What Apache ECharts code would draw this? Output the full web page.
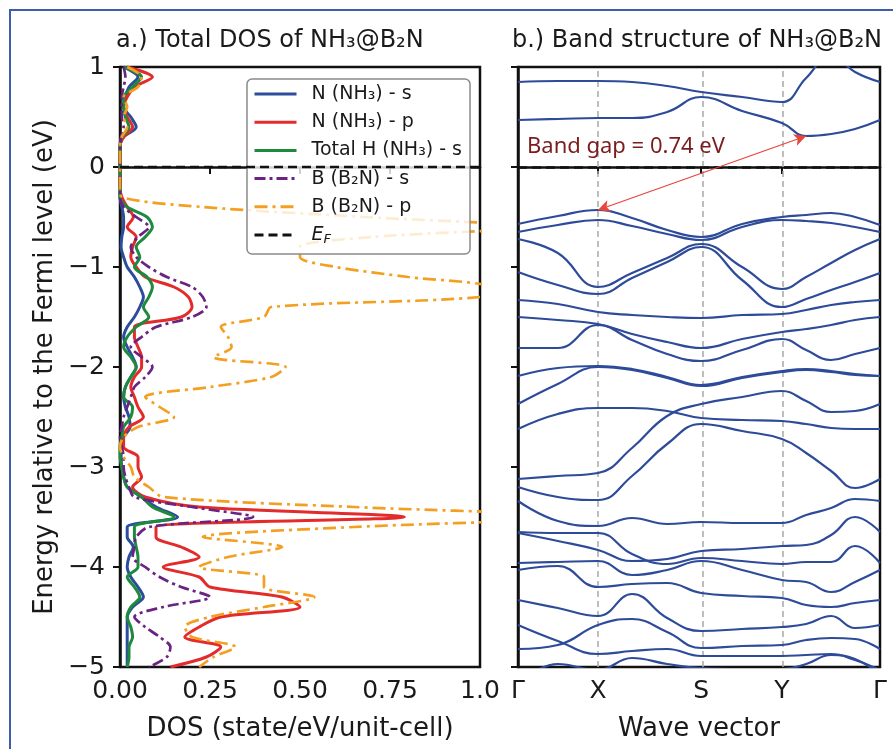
<!DOCTYPE html>
<html>
<head>
<meta charset="utf-8">
<script src="https://cdn.jsdelivr.net/npm/echarts@6/dist/echarts.min.js"></script>
<style>
html, body { margin: 0; padding: 0; background: #fff; }
#chart { width: 893px; height: 749px; }
</style>
</head>
<body>
<div id="chart"></div>
<script>
// ---- a.) DOS, energy grid (eV relative to E_F) ----
const energies = [1.0, 0.9, 0.8, 0.7, 0.6, 0.5, 0.4, 0.3, 0.2, 0.1, 0.0, -0.1, -0.2, -0.3, -0.4, -0.5, -0.6, -0.7, -0.8, -0.9,
  -1.0, -1.1, -1.2, -1.3, -1.4, -1.5, -1.6, -1.7, -1.8, -1.9, -2.0, -2.1, -2.2, -2.3, -2.4, -2.5, -2.6, -2.7, -2.8, -2.9,
  -3.0, -3.1, -3.2, -3.3, -3.4, -3.5, -3.6, -3.7, -3.8, -3.9, -4.0, -4.1, -4.2, -4.3, -4.4, -4.5, -4.6, -4.7, -4.8, -4.9, -5.0]

const dosNs = [0.01, 0.05, 0.025, 0.015, 0.01, 0.03, 0.045, 0.01, 0, 0, 0, 0, 0, 0, 0.005, 0.01, 0.01, 0.005, 0.003, 0.01,
  0.02, 0.04, 0.055, 0.065, 0.055, 0.04, 0.02, 0.01, 0.02, 0.035, 0.045, 0.03, 0.015, 0.01, 0.015, 0.025, 0.028, 0.01, 0.005, 0.003,
  0.005, 0.01, 0.02, 0.06, 0.1, 0.16, 0.02, 0.02, 0.037, 0.025, 0.02, 0.03, 0.05, 0.065, 0.035, 0.02, 0.02, 0.02, 0.02, 0.02, 0.02]
const dosNp = [0.02, 0.09, 0.04, 0.02, 0.01, 0.02, 0.035, 0.01, 0, 0, 0, 0, 0, 0.005, 0.02, 0.037, 0.02, 0.045, 0.035, 0.03,
  0.045, 0.07, 0.15, 0.19, 0.2, 0.17, 0.04, 0.04, 0.05, 0.06, 0.06, 0.04, 0.03, 0.04, 0.05, 0.065, 0.025, 0.01, 0.01, 0.05,
  0.05, 0.06, 0.035, 0.07, 0.22, 0.79, 0.1, 0.1, 0.17, 0.22, 0.12, 0.22, 0.25, 0.45, 0.5, 0.28, 0.22, 0.18, 0.28, 0.24, 0.14]
const dosHs = [0.01, 0.06, 0.035, 0.01, 0.01, 0.015, 0.025, 0.005, 0, 0, 0, 0, 0, 0, 0.02, 0.075, 0.09, 0.07, 0.045, 0.055,
  0.04, 0.075, 0.09, 0.08, 0.065, 0.08, 0.045, 0.02, 0.01, 0.03, 0.045, 0.03, 0.015, 0.01, 0.035, 0.03, 0.01, 0.005, 0, 0,
  0.005, 0.01, 0.02, 0.06, 0.09, 0.15, 0.04, 0.04, 0.045, 0.05, 0.05, 0.02, 0.04, 0.055, 0.03, 0.02, 0.03, 0.035, 0.025, 0.025, 0.02]
const dosBs = [0.01, 0.015, 0.01, 0.005, 0.005, 0.005, 0.01, 0.003, 0, 0, 0, 0, 0, 0, 0.01, 0.045, 0.08, 0.05, 0.03, 0.045,
  0.08, 0.13, 0.2, 0.23, 0.24, 0.2, 0.1, 0.06, 0.03, 0.06, 0.09, 0.07, 0.04, 0.03, 0.02, 0.01, 0.005, 0, 0.005, 0.01,
  0.01, 0.015, 0.025, 0.04, 0.2, 0.37, 0.08, 0.045, 0.04, 0.035, 0.07, 0.11, 0.17, 0.25, 0.12, 0.04, 0.07, 0.11, 0.14, 0.13, 0.08]
const dosBp = [0.02, 0.06, 0.05, 0.01, 0.02, 0.01, 0.02, 0.005, 0, 0, 0, 0, 0, 0.005, 0.23, 0.68, 1.15, 0.7, 0.5, 0.5,
  0.6, 0.8, 1.02, 1.0, 0.42, 0.4, 0.28, 0.3, 0.31, 0.26, 0.46, 0.42, 0.25, 0.07, 0.11, 0.15, 0.05, 0.01, 0, 0.01,
  0.03, 0.04, 0.08, 0.12, 0.65, 1.3, 0.65, 0.23, 0.45, 0.3, 0.22, 0.4, 0.4, 0.54, 0.4, 0.25, 0.18, 0.2, 0.32, 0.26, 0.22]

const dosNames = ['N (NH₃) - s', 'N (NH₃) - p', 'Total H (NH₃) - s', 'B (B₂N) - s', 'B (B₂N) - p', 'E_F']
const xTickLabels = ['0.00', '0.25', '0.50', '0.75', '1.0']

// ---- b.) band structure along Γ-X-S-Y-Γ ----
const kPath = [0, 0.110, 0.221, 0.315, 0.412, 0.506, 0.619, 0.729, 0.796, 0.865, 0.931, 1.0]
const kTicks = [0, 0.221, 0.506, 0.729, 1.0]
const kLabels = ['Γ', 'X', 'S', 'Y', 'Γ']
const bands = [
  [0.85, 0.86, 0.86, 0.85, 0.81, 0.75, 0.70, 0.65, 0.89, 1.12, 0.95, 0.85],
  [0.47, 0.48, 0.49, 0.49, 0.55, 0.70, 0.56, 0.44, 0.31, 0.33, 0.38, 0.47],
  [-0.57, -0.49, -0.43, -0.51, -0.63, -0.70, -0.57, -0.50, -0.48, -0.46, -0.50, -0.58],
  [-0.65, -0.58, -0.53, -0.59, -0.67, -0.73, -0.60, -0.53, -0.54, -0.56, -0.60, -0.65],
  [-0.72, -0.86, -1.20, -1.06, -0.91, -0.77, -1.00, -1.22, -1.10, -0.96, -0.83, -0.72],
  [-1.05, -1.18, -1.27, -1.11, -0.95, -0.80, -1.13, -1.40, -1.32, -1.23, -1.15, -1.06],
  [-1.33, -1.37, -1.45, -1.48, -1.50, -1.51, -1.48, -1.47, -1.43, -1.38, -1.35, -1.33],
  [-1.50, -1.53, -1.57, -1.67, -1.75, -1.81, -1.72, -1.65, -1.62, -1.58, -1.53, -1.50],
  [-1.81, -1.81, -1.58, -1.73, -1.87, -1.94, -1.83, -1.72, -1.83, -1.93, -1.87, -1.81],
  [-2.09, -2.01, -1.99, -2.02, -2.10, -2.18, -2.10, -2.04, -2.02, -2.04, -2.07, -2.09],
  [-2.37, -2.17, -2.00, -2.03, -2.11, -2.19, -2.11, -2.05, -2.03, -2.05, -2.08, -2.09],
  [-2.62, -2.47, -2.41, -2.41, -2.44, -2.51, -2.53, -2.54, -2.57, -2.61, -2.62, -2.62],
  [-3.12, -3.09, -3.06, -2.81, -2.49, -2.37, -2.30, -2.24, -2.34, -2.45, -2.44, -2.37],
  [-3.20, -3.30, -3.33, -3.09, -2.77, -2.57, -2.64, -2.72, -2.86, -3.04, -3.21, -3.12],
  [-3.34, -3.54, -3.59, -3.51, -3.57, -3.55, -3.56, -3.56, -3.48, -3.41, -3.32, -3.34],
  [-3.65, -3.66, -3.66, -3.87, -3.97, -3.91, -3.94, -3.97, -3.95, -3.95, -3.79, -3.96],
  [-3.66, -3.74, -3.83, -3.94, -3.92, -3.84, -3.82, -3.79, -3.78, -3.68, -3.50, -3.65],
  [-3.96, -3.95, -3.94, -4.08, -4.03, -3.94, -4.03, -4.13, -4.15, -4.25, -4.15, -4.03],
  [-4.03, -3.99, -4.20, -4.17, -4.16, -4.26, -4.29, -4.31, -4.38, -4.40, -4.36, -4.33],
  [-4.33, -4.41, -4.49, -4.27, -4.51, -4.64, -4.62, -4.60, -4.57, -4.49, -4.61, -4.58],
  [-4.58, -4.74, -4.87, -4.84, -4.82, -4.89, -4.89, -4.89, -4.88, -4.87, -4.93, -5.03],
  [-4.82, -4.78, -4.58, -4.52, -4.65, -4.81, -4.79, -4.78, -4.73, -4.71, -4.72, -4.82],
  [-5.17, -4.97, -5.03, -4.91, -4.97, -5.01, -5.02, -5.02, -4.97, -4.88, -4.92, -5.07]
]

// band edges -> gap arrow
let cbm = { e: Infinity, k: 0, b: 0 }, vbm = { e: -Infinity, k: 0, b: 0 }
bands.forEach((b, bi) => b.forEach((e, j) => {
  if (e > 0 && e < cbm.e) cbm = { e, k: kPath[j], b: bi }
  if (e < 0 && e > vbm.e) vbm = { e, k: kPath[j], b: bi }
}))
const gapText = 'Band gap = ' + (cbm.e - vbm.e).toFixed(2) + ' eV'

const FONT = 'DejaVu Sans'
const TXT = '#1a1a1a'
const minus = v => (v < 0 ? '\u2212' + Math.abs(v) : String(v))

const chart = echarts.init(document.getElementById('chart'))

const dosSeries = [
  { name: dosNames[0], vals: dosNs, color: '#2c4c9c', type: 'solid', width: 3 },
  { name: dosNames[1], vals: dosNp, color: '#e32b2b', type: 'solid', width: 3 },
  { name: dosNames[2], vals: dosHs, color: '#1e8a3e', type: 'solid', width: 3 },
  { name: dosNames[3], vals: dosBs, color: '#6a2383', type: [11, 4, 3, 4], width: 2.7 },
  { name: dosNames[4], vals: dosBp, color: '#f3a022', type: [13, 5, 3, 5], width: 2.7 }
].map(s => ({
  name: s.name,
  type: 'line',
  xAxisIndex: 0,
  yAxisIndex: 0,
  data: energies.map((e, i) => [s.vals[i], e]),
  symbol: 'none',
  smooth: 0.3,
  color: s.color,
  lineStyle: { color: s.color, width: s.width, type: s.type },
  silent: true
}))

const efSeries = {
  name: 'E_F',
  type: 'line',
  xAxisIndex: 0,
  yAxisIndex: 0,
  data: [[0, 0], [1, 0]],
  symbol: 'none',
  color: '#111',
  lineStyle: { color: '#111', width: 2.5, type: [9, 5] },
  z: 5,
  silent: true
}

const bandSeries = bands.map((b, bi) => {
  const s = {
    type: 'line',
    xAxisIndex: 1,
    yAxisIndex: 1,
    data: kPath.map((k, j) => [k, b[j]]),
    symbol: 'none',
    smooth: 0.45,
    lineStyle: { color: '#2e4b9a', width: 2.2 },
    silent: true,
    z: 3
  }
  if (bi === 0) {
    s.markLine = {
      silent: true,
      symbol: 'none',
      label: { show: false },
      data: [
        { xAxis: kTicks[1], lineStyle: { color: '#a8a8a8', width: 1.5, type: [6, 4] } },
        { xAxis: kTicks[2], lineStyle: { color: '#a8a8a8', width: 1.5, type: [6, 4] } },
        { xAxis: kTicks[3], lineStyle: { color: '#a8a8a8', width: 1.5, type: [6, 4] } },
        { yAxis: 0, lineStyle: { color: '#111', width: 2.5, type: [9, 5] } }
      ],
      z: 2
    }
  }
  if (bi === cbm.b) {
    s.markLine = {
      silent: true,
      symbol: ['arrow', 'arrow'],
      symbolSize: [9, 12],
      label: { show: false },
      lineStyle: { color: '#e8453c', width: 1.3, type: 'solid' },
      data: [[{ coord: [cbm.k, cbm.e] }, { coord: [vbm.k, vbm.e] }]],
      z: 6
    }
  }
  return s
})

chart.setOption({
  animation: false,
  backgroundColor: '#fff',
  title: [
    { text: 'a.) Total DOS of NH₃@B₂N', left: 111, top: 24, textStyle: { fontFamily: FONT, fontSize: 24, fontWeight: 'normal', color: TXT } },
    { text: 'b.) Band structure of NH₃@B₂N', left: 507, top: 24, textStyle: { fontFamily: FONT, fontSize: 24, fontWeight: 'normal', color: TXT } }
  ],
  legend: {
    data: dosNames,
    orient: 'vertical',
    left: 247,
    top: 79,
    itemWidth: 42,
    itemHeight: 14,
    itemGap: 8.2,
    padding: [5, 8, 8, 6],
    backgroundColor: 'rgba(255,255,255,0.8)',
    borderColor: '#8a8a8a',
    borderWidth: 1.5,
    borderRadius: 5,
    selectedMode: false,
    itemStyle: { color: 'rgba(0,0,0,0)', borderColor: 'rgba(0,0,0,0)', borderWidth: 0, opacity: 0 },
    lineStyle: { width: 3 },
    formatter: name => (name === 'E_F' ? '{i|E}{s|F}' : name),
    textStyle: {
      fontFamily: FONT, fontSize: 19, color: TXT, lineHeight: 20, padding: [0, 0, 0, 10],
      rich: {
        i: { fontFamily: FONT, fontSize: 19, fontStyle: 'italic', color: TXT },
        s: { fontFamily: FONT, fontSize: 13, fontStyle: 'italic', color: TXT, padding: [9, 0, 0, 0] }
      }
    }
  },
  grid: [
    { left: 120, top: 67, width: 360, height: 600, show: true, borderColor: '#111', borderWidth: 2.5, backgroundColor: 'transparent', outerBoundsMode: 'none' },
    { left: 518, top: 67, width: 362, height: 600, show: true, borderColor: '#111', borderWidth: 2.5, backgroundColor: 'transparent', outerBoundsMode: 'none' }
  ],
  xAxis: [
    {
      gridIndex: 0, type: 'value', min: 0, max: 1, interval: 0.25,
      name: 'DOS (state/eV/unit-cell)', nameLocation: 'middle', nameGap: 49,
      nameTextStyle: { fontFamily: FONT, fontSize: 26, color: TXT },
      axisLine: { show: true, lineStyle: { color: '#111', width: 2.5 } },
      axisTick: { show: true, inside: false, length: 7, lineStyle: { color: '#111', width: 2 } },
      axisLabel: { fontFamily: FONT, fontSize: 25, color: TXT, margin: 12, formatter: v => xTickLabels[Math.round(v / 0.25)] },
      splitLine: { show: false }
    },
    {
      gridIndex: 1, type: 'value', min: 0, max: 1,
      name: 'Wave vector', nameLocation: 'middle', nameGap: 49,
      nameTextStyle: { fontFamily: FONT, fontSize: 26, color: TXT },
      axisLine: { show: true, lineStyle: { color: '#111', width: 2.5 } },
      axisTick: { show: true, inside: false, length: 7, lineStyle: { color: '#111', width: 2 }, customValues: kTicks },
      axisLabel: { fontFamily: FONT, fontSize: 25, color: TXT, margin: 12, customValues: kTicks, formatter: v => kLabels[kTicks.indexOf(v)] },
      splitLine: { show: false }
    }
  ],
  yAxis: [
    {
      gridIndex: 0, type: 'value', min: -5, max: 1, interval: 1,
      name: 'Energy relative to the Fermi level (eV)', nameLocation: 'middle', nameGap: 62, nameRotate: 90,
      nameTextStyle: { fontFamily: FONT, fontSize: 26, color: TXT },
      axisLine: { show: true, lineStyle: { color: '#111', width: 2.5 } },
      axisTick: { show: true, inside: false, length: 7, lineStyle: { color: '#111', width: 2 } },
      axisLabel: { fontFamily: FONT, fontSize: 25, color: TXT, margin: 15, formatter: minus },
      splitLine: { show: false }
    },
    {
      gridIndex: 1, type: 'value', min: -5, max: 1, interval: 1,
      axisLine: { show: true, lineStyle: { color: '#111', width: 2.5 } },
      axisTick: { show: true, inside: false, length: 7, lineStyle: { color: '#111', width: 2 } },
      axisLabel: { show: false },
      splitLine: { show: false }
    }
  ],
  graphic: [
    { type: 'rect', shape: { x: 10, y: 10, width: 900, height: 800 }, style: { fill: 'none', stroke: '#3f5dab', lineWidth: 2 }, silent: true },
    { type: 'text', left: 527, top: 136, style: { text: gapText, fontFamily: 'Noto Sans', fontSize: 22, fill: '#7a1c1c' }, z: 10 }
  ],
  series: [...dosSeries, efSeries, ...bandSeries]
})
</script>
</body>
</html>
